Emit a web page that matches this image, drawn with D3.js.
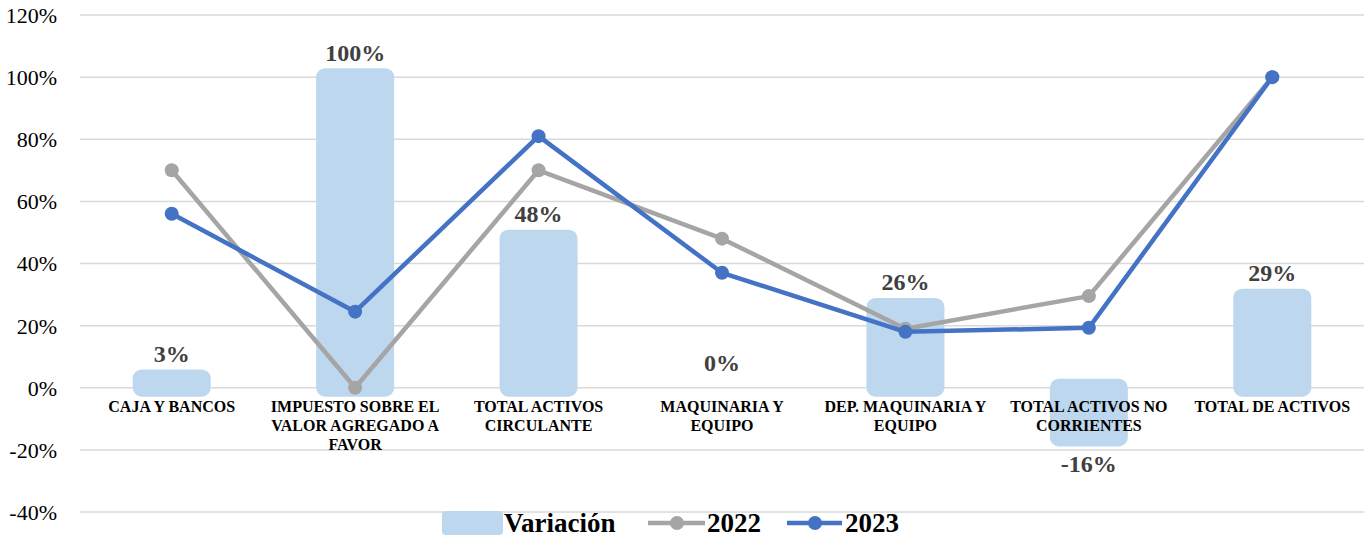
<!DOCTYPE html>
<html>
<head>
<meta charset="utf-8">
<script src="https://cdn.jsdelivr.net/npm/d3@7"></script>
<style>
  body { margin: 0; background: #fff; }
  svg text { font-family: 'Liberation Serif', 'Times New Roman', Times, 'DejaVu Serif', serif !important; }
</style>
</head>
<body>
<svg class="combo-chart"></svg>
<script>
// chart data
let categories = [
	"CAJA Y BANCOS",
	"IMPUESTO SOBRE EL VALOR AGREGADO A FAVOR",
	"TOTAL ACTIVOS CIRCULANTE",
	"MAQUINARIA Y EQUIPO",
	"DEP. MAQUINARIA Y EQUIPO",
	"TOTAL ACTIVOS NO CORRIENTES",
	"TOTAL DE ACTIVOS"
];
// how the category labels wrap
let categoryLines = [
	["CAJA Y BANCOS"],
	["IMPUESTO SOBRE EL", "VALOR AGREGADO A", "FAVOR"],
	["TOTAL ACTIVOS", "CIRCULANTE"],
	["MAQUINARIA Y", "EQUIPO"],
	["DEP. MAQUINARIA Y", "EQUIPO"],
	["TOTAL ACTIVOS NO", "CORRIENTES"],
	["TOTAL DE ACTIVOS"]
];
let variacion = [3, 100, 48, 0, 26, -16, 29];
let values2022 = [70, 0, 70, 48, 19, 29.5, 100];
let values2023 = [56, 24.5, 81, 37, 18, 19.3, 100];
let yTicks = [-40, -20, 0, 20, 40, 60, 80, 100, 120];

let width = 1364;
let height = 538;

let bar_color = "#BDD7EE";
let color2022 = "#A5A5A5";
let color2023 = "#4472C4";
let serif = "'Liberation Serif', 'Times New Roman', serif";

let svg = d3.select(".combo-chart")
	.attr("width", width)
	.attr("height", height);

// scales
let xScale = d3.scaleBand()
	.domain(categories)
	.range([80, 1364])
	.padding(0);

let yScale = d3.scaleLinear()
	.domain([-40, 120])
	.range([512, 15]);

let cx = function(i) { return xScale(categories[i]) + xScale.bandwidth() / 2; };

// grid lines
svg.append("g")
	.attr("class", "grid")
	.selectAll("line")
	.data(yTicks)
	.enter().append("line")
	.attr("x1", 80)
	.attr("x2", 1364)
	.attr("y1", d => yScale(d))
	.attr("y2", d => yScale(d))
	.style("stroke", "#D9D9D9")
	.style("stroke-width", 1.5);

// y axis labels
let yAxis = d3.axisLeft(yScale)
	.tickValues(yTicks)
	.tickSize(0)
	.tickPadding(0)
	.tickFormat(d => d + "%");

let yg = svg.append("g")
	.attr("class", "y-axis")
	.attr("transform", "translate(57,0)")
	.call(yAxis);
yg.attr("font-family", null);
yg.select(".domain").remove();
yg.selectAll("text")
	.style("font-family", serif)
	.style("font-size", "22px")
	.attr("dy", "0.34em")
	.style("fill", "#000");

// bars (soft rounded look)
let pad = 9;
let barData = variacion.map((v, i) => ({ v: v, i: i })).filter(d => d.v !== 0);
svg.append("g")
	.attr("class", "bars")
	.selectAll("rect")
	.data(barData)
	.enter().append("rect")
	.attr("x", d => cx(d.i) - 39)
	.attr("width", 78)
	.attr("y", d => yScale(Math.max(d.v, 0)) - pad)
	.attr("height", d => Math.abs(yScale(d.v) - yScale(0)) + 2 * pad)
	.attr("rx", 9)
	.attr("ry", 9)
	.style("fill", bar_color);

// bar labels
svg.append("g")
	.attr("class", "bar-labels")
	.selectAll("text")
	.data(variacion)
	.enter().append("text")
	.attr("x", (d, i) => cx(i))
	.attr("y", d => d < 0 ? yScale(d) + pad + 26 : yScale(d) - 16.5)
	.attr("text-anchor", "middle")
	.style("font-family", serif)
	.style("font-size", "24px")
	.style("font-weight", "bold")
	.style("fill", "#404040")
	.text(d => d + "%");

// category labels
let catGroup = svg.append("g").attr("class", "x-axis-labels");
categoryLines.forEach(function(lines, i) {
	let t = catGroup.append("text")
		.attr("text-anchor", "middle")
		.style("font-family", serif)
		.style("font-size", "16px")
		.style("font-weight", "bold")
		.style("fill", "#000");
	lines.forEach(function(line, j) {
		t.append("tspan")
			.attr("x", cx(i))
			.attr("y", 412 + j * 19)
			.text(line);
	});
});

// lines
let line = d3.line()
	.x((d, i) => cx(i))
	.y(d => yScale(d));

function drawSeries(values, color, cls) {
	svg.append("path")
		.datum(values)
		.attr("class", cls)
		.style("fill", "none")
		.style("stroke", color)
		.style("stroke-width", 4.5)
		.style("stroke-linejoin", "round")
		.attr("d", line);

	svg.append("g")
		.attr("class", cls + "-dots")
		.selectAll("circle")
		.data(values)
		.enter().append("circle")
		.attr("r", 7)
		.attr("cx", (d, i) => cx(i))
		.attr("cy", d => yScale(d))
		.style("fill", color);
}

drawSeries(values2022, color2022, "line-2022");
drawSeries(values2023, color2023, "line-2023");

// legend
let legend = svg.append("g").attr("class", "legend");
let legY = 523;

function legendText(x, label) {
	legend.append("text")
		.attr("x", x).attr("y", legY + 9)
		.style("font-family", serif)
		.style("font-size", "27px")
		.style("font-weight", "bold")
		.style("fill", "#000")
		.text(label);
}

legend.append("rect")
	.attr("x", 442).attr("y", legY - 12)
	.attr("width", 61).attr("height", 24)
	.attr("rx", 4)
	.style("fill", bar_color);
legendText(504, "Variación");

legend.append("line")
	.attr("x1", 648).attr("x2", 705)
	.attr("y1", legY).attr("y2", legY)
	.style("stroke", color2022).style("stroke-width", 4.5);
legend.append("circle")
	.attr("cx", 677).attr("cy", legY).attr("r", 7)
	.style("fill", color2022);
legendText(707, "2022");

legend.append("line")
	.attr("x1", 787).attr("x2", 842)
	.attr("y1", legY).attr("y2", legY)
	.style("stroke", color2023).style("stroke-width", 4.5);
legend.append("circle")
	.attr("cx", 815).attr("cy", legY).attr("r", 7)
	.style("fill", color2023);
legendText(845, "2023");
</script>
</body>
</html>
